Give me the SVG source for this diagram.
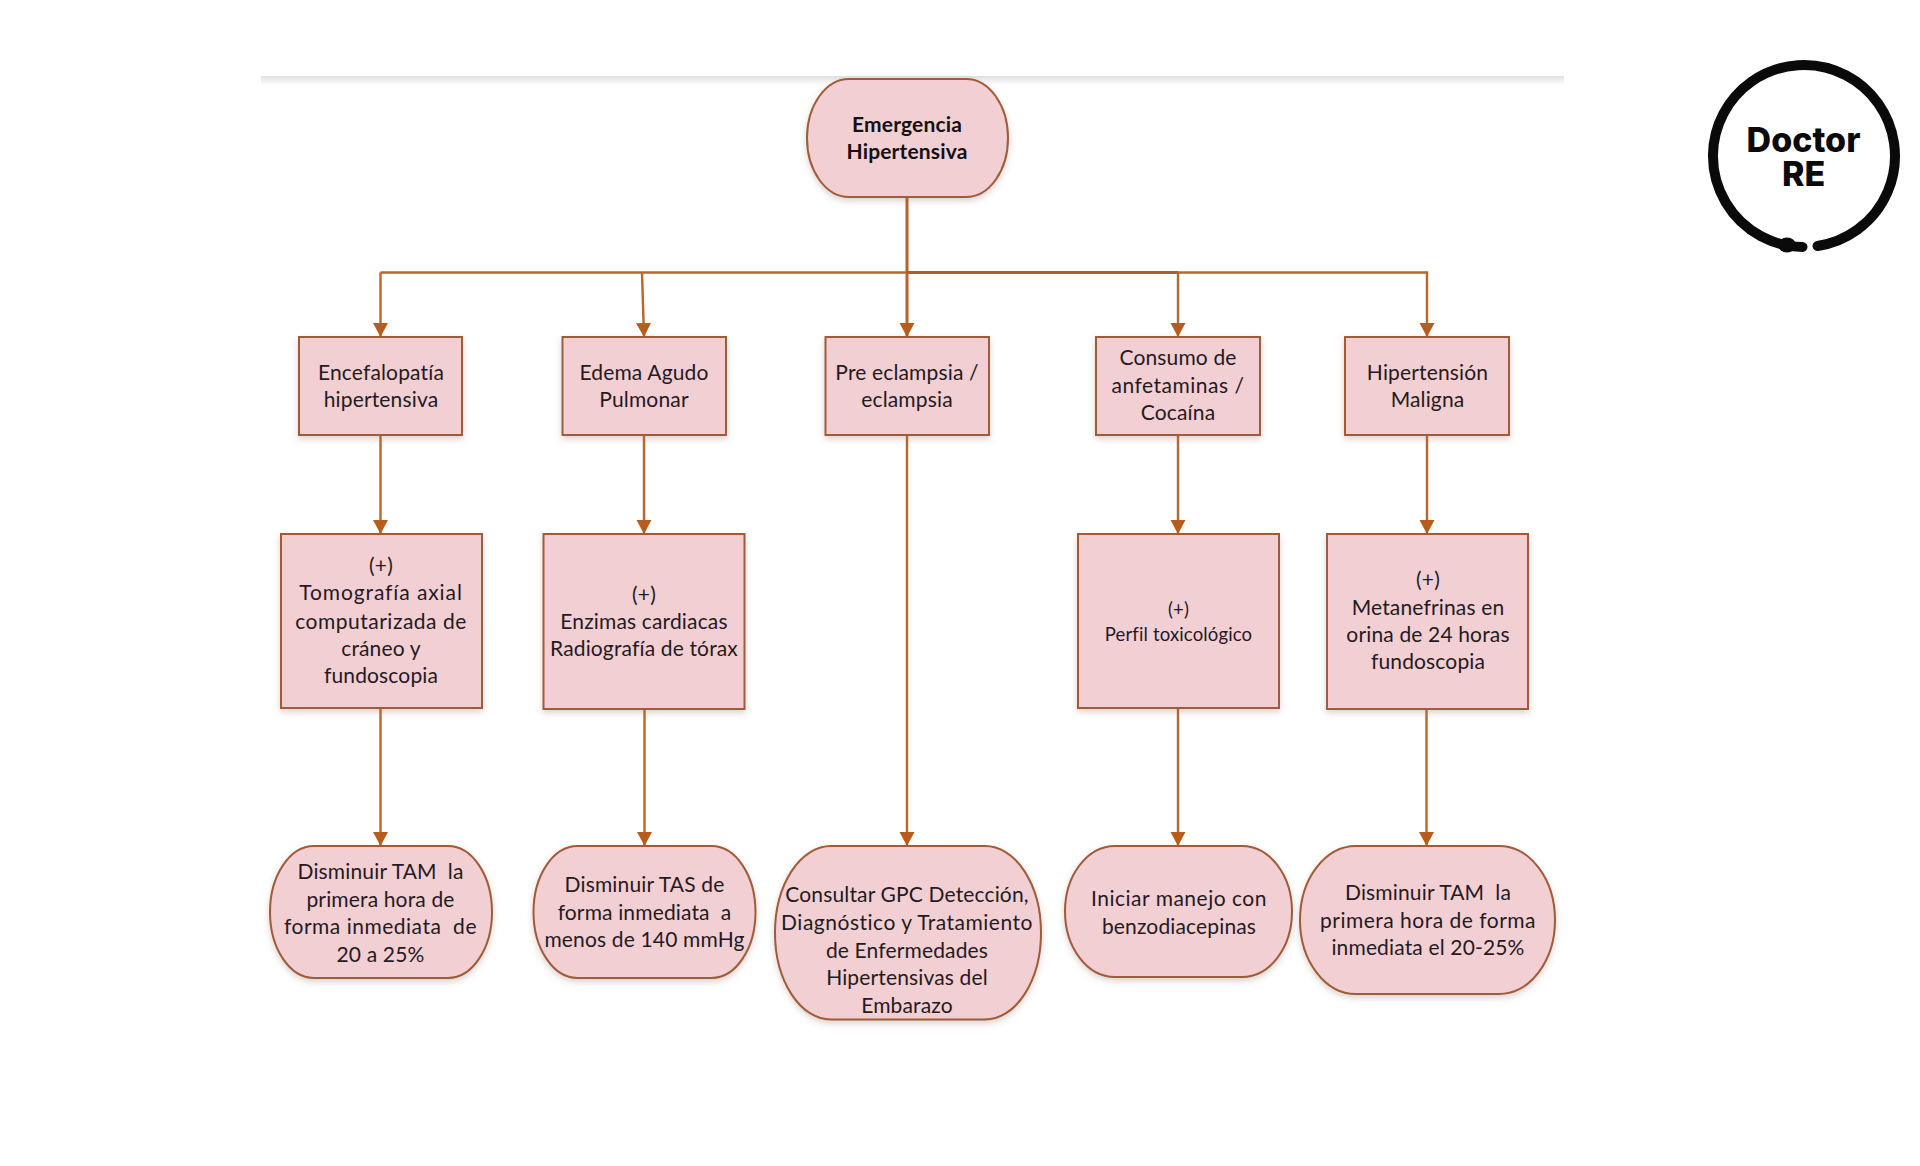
<svg xmlns="http://www.w3.org/2000/svg" width="1920" height="1166" viewBox="0 0 1920 1166">
<style>
.n{fill:#f2cfd3;stroke:#a05c38;stroke-width:2;filter:url(#sh)}
.t{font-family:Lato,"Liberation Sans",sans-serif;font-size:21px;letter-spacing:.15px;text-anchor:middle;fill:#251a1e;white-space:pre}
.b{font-weight:700;fill:#141014}
.s{font-size:18.500px}
.w{letter-spacing:.5px}
.x{letter-spacing:.9px}
.c{fill:none;stroke:#b9652c;stroke-width:2.400;marker-end:url(#a)}
.l{font-family:Inter,"Liberation Sans",sans-serif;font-weight:800;font-size:34px;text-anchor:middle;fill:#0a0a0a}
</style>
<defs>
<marker id="a" markerUnits="userSpaceOnUse" markerWidth="16" markerHeight="16" refX="14" refY="8" orient="auto"><path d="M0 0.500L14 8L0 15.500Z" fill="#b85c1e"/></marker>
<filter id="sh" x="-10%" y="-10%" width="120%" height="125%"><feDropShadow dx="0" dy="3" stdDeviation="3" flood-color="#8a6a60" flood-opacity=".3"/></filter>
<linearGradient id="g" x1="0" y1="0" x2="0" y2="1"><stop offset="0" stop-color="#e0e0e0"/><stop offset="1" stop-color="#ffffff"/></linearGradient>
</defs>
<rect width="1920" height="1166" fill="#fff"/>
<rect x="261" y="76" width="1303" height="9" fill="url(#g)"/>
<g id="connectors">
<path class="c" style="stroke-width:3;stroke:#b8612a" d="M907 197V337"/>
<path class="c" d="M380.500 272.500V337"/>
<path class="c" d="M380.500 272.500H907" style="marker-end:none"/>
<path class="c" d="M642 272.500L644 337"/>
<path class="c" d="M907 272.500H1178" style="marker-end:none;stroke:#a8602f;stroke-width:3"/>
<path class="c" d="M1178 272.500V337"/>
<path class="c" d="M1178 272.500H1427V337"/>
<path class="c" d="M380.500 435V534"/>
<path class="c" d="M644 435V534"/>
<path class="c" d="M907 435V846"/>
<path class="c" d="M1178 435V534"/>
<path class="c" d="M1427 435V534"/>
<path class="c" d="M380.500 708V846"/>
<path class="c" d="M644.500 709V846"/>
<path class="c" d="M1178 708V846"/>
<path class="c" d="M1426.500 709V846"/>
</g>
<g id="n0"><rect class="n" x="807" y="79" width="201" height="118" rx="42" ry="59"/><text class="t b"><tspan x="907" y="132">Emergencia</tspan><tspan x="907" y="159">Hipertensiva</tspan></text></g>
<g id="n1"><rect class="n" x="299" y="337" width="163" height="98"/><text class="t"><tspan x="381" y="380">Encefalopatía</tspan><tspan x="381" y="407">hipertensiva</tspan></text></g>
<g id="n2"><rect class="n" x="562.500" y="337" width="163.500" height="98"/><text class="t"><tspan x="644" y="380">Edema Agudo</tspan><tspan x="644" y="407">Pulmonar</tspan></text></g>
<g id="n3"><rect class="n" x="825.500" y="337" width="163.500" height="98"/><text class="t"><tspan x="907" y="380">Pre eclampsia /</tspan><tspan x="907" y="407">eclampsia</tspan></text></g>
<g id="n4"><rect class="n" x="1096" y="337" width="164" height="98"/><text class="t"><tspan x="1178" y="365">Consumo de</tspan><tspan x="1178" y="393" class="w">anfetaminas /</tspan><tspan x="1178" y="420">Cocaína</tspan></text></g>
<g id="n5"><rect class="n" x="1345" y="337" width="164" height="98"/><text class="t"><tspan x="1427.500" y="380">Hipertensión</tspan><tspan x="1427.500" y="407">Maligna</tspan></text></g>
<g id="n6"><rect class="n" x="281" y="534" width="201" height="174"/><text class="t"><tspan x="381" y="573">(+)</tspan><tspan x="381" y="600" class="x">Tomografía axial</tspan><tspan x="381" y="629" class="w">computarizada de</tspan><tspan x="381" y="656">cráneo y</tspan><tspan x="381" y="683">fundoscopia</tspan></text></g>
<g id="n7"><rect class="n" x="543.500" y="534" width="201" height="175"/><text class="t"><tspan x="644" y="602">(+)</tspan><tspan x="644" y="629">Enzimas cardiacas</tspan><tspan x="644" y="656">Radiografía de tórax</tspan></text></g>
<g id="n8"><rect class="n" x="1078" y="534" width="201" height="174"/><text class="t s"><tspan x="1178.500" y="616">(+)</tspan><tspan x="1178.500" y="641">Perfil toxicológico</tspan></text></g>
<g id="n9"><rect class="n" x="1327" y="534" width="201" height="175"/><text class="t"><tspan x="1428" y="587">(+)</tspan><tspan x="1428" y="615">Metanefrinas en</tspan><tspan x="1428" y="642">orina de 24 horas</tspan><tspan x="1428" y="669">fundoscopia</tspan></text></g>
<g id="n10"><rect class="n" x="270" y="846" width="222" height="132" rx="44" ry="66"/><text class="t"><tspan x="380.500" y="879">Disminuir TAM  la</tspan><tspan x="380.500" y="907">primera hora de</tspan><tspan x="380.500" y="934" class="w">forma inmediata  de</tspan><tspan x="380.500" y="962">20 a 25%</tspan></text></g>
<g id="n11"><rect class="n" x="533.500" y="846" width="222" height="132" rx="44" ry="66"/><text class="t"><tspan x="644.500" y="892">Disminuir TAS de</tspan><tspan x="644.500" y="920">forma inmediata  a</tspan><tspan x="644.500" y="947">menos de 140 mmHg</tspan></text></g>
<g id="n12"><rect class="n" x="775" y="846" width="266" height="173.500" rx="56" ry="86.750"/><text class="t"><tspan x="907" y="902">Consultar GPC Detección,</tspan><tspan x="907" y="930" class="w">Diagnóstico y Tratamiento</tspan><tspan x="907" y="958">de Enfermedades</tspan><tspan x="907" y="985">Hipertensivas del</tspan><tspan x="907" y="1013">Embarazo</tspan></text></g>
<g id="n13"><rect class="n" x="1065" y="846" width="227" height="131" rx="50" ry="65.500"/><text class="t"><tspan x="1179" y="906" class="w">Iniciar manejo con</tspan><tspan x="1179" y="934">benzodiacepinas</tspan></text></g>
<g id="n14"><rect class="n" x="1300" y="846" width="255" height="148" rx="56" ry="74"/><text class="t"><tspan x="1428" y="900">Disminuir TAM  la</tspan><tspan x="1428" y="928" class="w">primera hora de forma</tspan><tspan x="1428" y="955">inmediata el 20-25%</tspan></text></g>
<g id="logo">
<path d="M1802.500 247A91 91 0 1 1 1817.500 246" fill="none" stroke="#0a0a0a" stroke-width="10" stroke-linecap="round"/>
<ellipse cx="1787" cy="245" rx="9" ry="7.500" fill="#0a0a0a"/>
<text class="l"><tspan x="1803.500" y="152">Doctor</tspan><tspan x="1803.500" y="186">RE</tspan></text>
</g>
</svg>
